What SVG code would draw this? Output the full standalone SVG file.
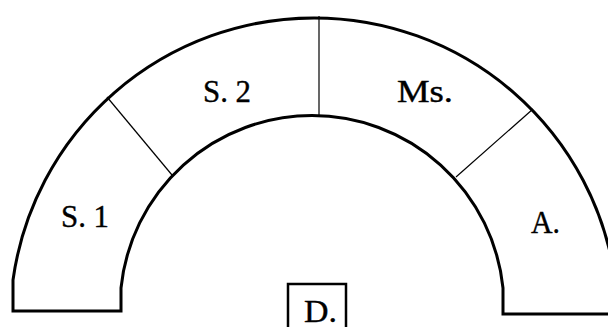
<svg xmlns="http://www.w3.org/2000/svg" width="608" height="327" viewBox="0 0 608 327">
<style>
.wall{fill:none;stroke:#000;stroke-width:3;stroke-linejoin:miter}
.div{stroke:#000;stroke-width:1.2;fill:none}
.lbl{font-family:"Liberation Serif","Times New Roman",serif;font-size:32px;fill:#000;stroke:#000;stroke-width:0.4}
</style>
<rect width="608" height="327" fill="#fff"/>
<g id="arch">
<path class="wall" d="M 13 280 A 304 304 0 0 1 615.2 280 L 615 314 L 503 314 L 503 288 A 192 192 0 0 0 121 288 L 121 311 L 13 311 Z"/>
</g>
<g id="connectors">
<line class="div" x1="107" y1="97" x2="172" y2="175"/>
<line class="div" x1="319" y1="16" x2="319" y2="117"/>
<line class="div" x1="533" y1="109" x2="456" y2="177"/>
</g>
<g id="node-s1"><text class="lbl" x="61" y="227" textLength="48" lengthAdjust="spacingAndGlyphs">S. 1</text></g>
<g id="node-s2"><text class="lbl" x="203" y="102" textLength="48" lengthAdjust="spacingAndGlyphs">S. 2</text></g>
<g id="node-ms"><text class="lbl" x="397" y="102" textLength="56" lengthAdjust="spacingAndGlyphs">Ms.</text></g>
<g id="node-a"><text class="lbl" x="531" y="233" textLength="29" lengthAdjust="spacingAndGlyphs">A.</text></g>
<g id="node-d">
<rect x="288" y="284" width="58" height="50" fill="none" stroke="#000" stroke-width="2.5"/>
<text class="lbl" x="304" y="322" textLength="33" lengthAdjust="spacingAndGlyphs">D.</text>
</g>
</svg>
